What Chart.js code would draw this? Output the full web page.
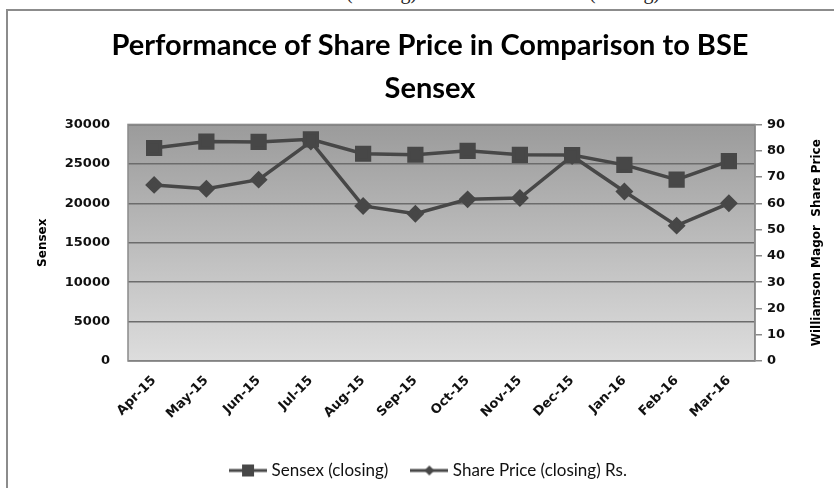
<!DOCTYPE html>
<html>
<head>
<meta charset="utf-8">
<script src="https://cdn.jsdelivr.net/npm/chart.js@4/dist/chart.umd.min.js"></script>
<style>
    html, body { margin: 0; padding: 0; background: #fff; overflow: hidden; }
    #wrap { position: relative; width: 834px; height: 488px; overflow: hidden; }
    #frame { position: absolute; left: 6px; top: 9px; width: 900px; height: 600px; border: 2px solid #8c8c8c; }
    #chart { position: absolute; left: 0; top: 0; }
    .cut { position: absolute; top: -19px; font: 20px "Liberation Serif", serif; color: #222; }
</style>
</head>
<body>
<div id="wrap">
    <span class="cut" style="left:346px">(closing)</span>
    <span class="cut" style="left:589px">(closing)</span>
    <div id="frame"></div>
    <canvas id="chart" width="834" height="488"></canvas>
</div>
<script>
    const months = ['Apr-15', 'May-15', 'Jun-15', 'Jul-15', 'Aug-15', 'Sep-15', 'Oct-15', 'Nov-15', 'Dec-15', 'Jan-16', 'Feb-16', 'Mar-16'];
    const sensex = [27011, 27828, 27781, 28115, 26283, 26155, 26657, 26146, 26118, 24871, 23002, 25342];
    const sharePrice = [67, 65.5, 69, 83.5, 59, 56, 61.5, 62, 78, 64.5, 51.5, 60];
    const sensexTicks = [0, 5000, 10000, 15000, 20000, 25000, 30000];
    const priceTicks = [0, 10, 20, 30, 40, 50, 60, 70, 80, 90];
    const rightTitle = 'Williamson Magor  Share Price';

    const lineColor = '#474747';
    const tickFont = { family: 'DejaVu Sans', size: 13, weight: 'bold' };

    // petite image "ligne + marqueur" pour la légende
    function legendIcon(style) {
        const c = document.createElement('canvas');
        c.width = 38;
        c.height = 14;
        const g = c.getContext('2d');
        g.strokeStyle = lineColor;
        g.fillStyle = lineColor;
        g.lineWidth = 3;
        g.beginPath();
        g.moveTo(0, 7);
        g.lineTo(38, 7);
        g.stroke();
        if (style === 'rect') {
            g.fillRect(13, 1, 12, 12);
        } else {
            g.beginPath();
            g.moveTo(19, 2);
            g.lineTo(24, 7);
            g.lineTo(19, 12);
            g.lineTo(14, 7);
            g.closePath();
            g.fill();
        }
        return c;
    }

    // fond dégradé, cadre de la zone de tracé, titre de l'axe droit
    const plotBackground = {
        id: 'plotBackground',
        beforeDraw(chart) {
            const { ctx, chartArea: a } = chart;
            const grad = ctx.createLinearGradient(0, a.top, 0, a.bottom);
            grad.addColorStop(0, '#9b9b9b');
            grad.addColorStop(1, '#dddddd');
            ctx.save();
            ctx.fillStyle = grad;
            ctx.fillRect(a.left, a.top, a.right - a.left, a.bottom - a.top);
            ctx.restore();
        },
        beforeDatasetsDraw(chart) {
            const { ctx, chartArea: a } = chart;
            ctx.save();
            ctx.strokeStyle = '#8a8a8a';
            ctx.lineWidth = 1.5;
            ctx.strokeRect(a.left, a.top, a.right - a.left, a.bottom - a.top);
            ctx.restore();
        },
        afterDraw(chart) {
            const { ctx, chartArea: a } = chart;
            ctx.save();
            ctx.translate(817, (a.top + a.bottom) / 2);
            ctx.rotate(-Math.PI / 2);
            ctx.font = 'bold 12px "DejaVu Sans"';
            ctx.fillStyle = '#000';
            ctx.textAlign = 'center';
            ctx.textBaseline = 'middle';
            ctx.fillText(rightTitle, 0, 0);
            ctx.restore();
        }
    };

    new Chart(document.getElementById('chart'), {
        type: 'line',
        data: {
            labels: months,
            datasets: [{
                label: 'Sensex (closing)',
                data: sensex,
                yAxisID: 'y',
                borderColor: lineColor,
                backgroundColor: lineColor,
                borderWidth: 3.5,
                pointStyle: 'rect',
                pointRadius: 9,
                pointBackgroundColor: lineColor,
                pointBorderColor: lineColor,
                tension: 0
            }, {
                label: 'Share Price (closing) Rs.',
                data: sharePrice,
                yAxisID: 'y1',
                borderColor: lineColor,
                backgroundColor: lineColor,
                borderWidth: 3.5,
                pointStyle: 'rectRot',
                pointRadius: 6.5,
                pointBackgroundColor: lineColor,
                pointBorderColor: lineColor,
                tension: 0
            }]
        },
        options: {
            responsive: false,
            animation: false,
            layout: { padding: { left: 30, right: 4, top: 0, bottom: -1 } },
            plugins: {
                title: {
                    display: true,
                    text: ['Performance of Share Price in Comparison to BSE', 'Sensex'],
                    color: '#000',
                    font: { family: 'Lato', size: 29, weight: 'bold', lineHeight: 1.48 },
                    padding: { top: 24, bottom: 14.6 }
                },
                legend: {
                    position: 'bottom',
                    labels: {
                        usePointStyle: true,
                        pointStyleWidth: 30,
                        padding: 26,
                        color: '#111',
                        font: { family: 'Lato', size: 17 },
                        generateLabels: function (chart) {
                            return chart.data.datasets.map(function (ds, i) {
                                return {
                                    text: ds.label,
                                    datasetIndex: i,
                                    pointStyle: legendIcon(ds.pointStyle),
                                    fillStyle: lineColor,
                                    strokeStyle: lineColor,
                                    lineWidth: 0,
                                    fontColor: '#111'
                                };
                            });
                        }
                    }
                },
                tooltip: { enabled: false }
            },
            scales: {
                x: {
                    offset: true,
                    grid: { display: false },
                    border: { display: false },
                    ticks: { color: '#111', font: tickFont, minRotation: 45, maxRotation: 45, padding: 4 },
                    afterFit: function (scale) { scale.height = 75; }
                },
                y: {
                    position: 'left',
                    min: 0,
                    max: 30000,
                    afterBuildTicks: function (scale) { scale.ticks = sensexTicks.map(v => ({ value: v })); },
                    grid: { color: '#6c6c6c', lineWidth: 1.5, drawTicks: false },
                    border: { display: false },
                    ticks: { color: '#111', font: tickFont, padding: 18, callback: v => String(v) },
                    title: { display: true, text: 'Sensex', color: '#000', font: { family: 'DejaVu Sans', size: 12, weight: 'bold' }, padding: 6 },
                    afterFit: function (scale) { scale.width = 98; }
                },
                y1: {
                    position: 'right',
                    min: 0,
                    max: 90,
                    afterBuildTicks: function (scale) { scale.ticks = priceTicks.map(v => ({ value: v })); },
                    grid: { drawOnChartArea: false, color: '#8a8a8a', lineWidth: 1.5, tickLength: 7 },
                    border: { color: '#8a8a8a', width: 1.5 },
                    ticks: { color: '#111', font: tickFont, padding: 5, callback: v => String(v) },
                    afterFit: function (scale) { scale.width = 75; }
                }
            }
        },
        plugins: [plotBackground]
    });
</script>
</body>
</html>
